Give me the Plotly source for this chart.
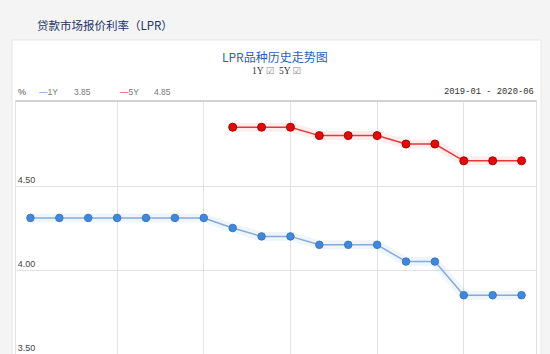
import plotly.graph_objects as go

months = ["2019-01", "2019-02", "2019-03", "2019-04", "2019-05", "2019-06",
          "2019-07", "2019-08", "2019-09", "2019-10", "2019-11", "2019-12",
          "2020-01", "2020-02", "2020-03", "2020-04", "2020-05", "2020-06"]
lpr_1y = [4.31, 4.31, 4.31, 4.31, 4.31, 4.31, 4.31, 4.25, 4.20, 4.20,
          4.15, 4.15, 4.15, 4.05, 4.05, 3.85, 3.85, 3.85]
lpr_5y = [None, None, None, None, None, None, None, 4.85, 4.85, 4.85,
          4.80, 4.80, 4.80, 4.75, 4.75, 4.65, 4.65, 4.65]
legend_names = ["1Y", "5Y"]
legend_values = [3.85, 4.85]
y_ticks = [3.5, 4.0, 4.5]

W, H = 550, 354
L, R, T, B = 16, 14, 101, 0
pw, ph = W - L - R, H - T - B

def px(x):
    return (x - L) / pw

def py(y):
    return (H - B - y) / ph

BLUE_LINE = "#86a9d6"
BLUE_MK = "#3f88dc"
RED_LINE = "#e23a3a"
RED_MK = "#e00b0b"

fig = go.Figure()
# soft halos
fig.add_trace(go.Scatter(x=months, y=lpr_1y, mode="lines",
                         line=dict(color="rgba(120,170,230,0.12)", width=9),
                         hoverinfo="skip", showlegend=False))
fig.add_trace(go.Scatter(x=months, y=lpr_5y, mode="lines",
                         line=dict(color="rgba(240,80,80,0.10)", width=9),
                         hoverinfo="skip", showlegend=False))
fig.add_trace(go.Scatter(x=months, y=lpr_1y, mode="lines+markers", name="1Y",
                         line=dict(color=BLUE_LINE, width=1.5),
                         marker=dict(color=BLUE_MK, size=7.5,
                                     line=dict(color="#3a78c4", width=1)),
                         showlegend=False))
fig.add_trace(go.Scatter(x=months, y=lpr_5y, mode="lines+markers", name="5Y",
                         line=dict(color=RED_LINE, width=1.5),
                         marker=dict(color=RED_MK, size=8,
                                     line=dict(color="#b00000", width=1)),
                         showlegend=False))

shapes = [
    # white card
    dict(type="rect", xref="paper", yref="paper",
         x0=px(12), x1=px(541), y0=py(360), y1=py(40),
         fillcolor="white", line=dict(color="#e6e6e6", width=1), layer="below"),
    # top border of plot area
    dict(type="line", xref="paper", yref="paper",
         x0=0, x1=1, y0=1, y1=1, line=dict(color="#d2d2d2", width=2)),
]

lg_font = dict(family="Liberation Sans", size=8.5, color="#777777")
annotations = [
    dict(text="贷款市场报价利率（LPR）", x=px(35), y=py(25), xanchor="left", yanchor="middle",
         font=dict(family="Noto Sans CJK SC", size=11.5, color="#1c3264")),
    dict(text="LPR品种历史走势图", x=px(275), y=py(57), xanchor="center", yanchor="middle",
         font=dict(family="Noto Sans CJK SC", size=12, color="#1e64b8")),
    dict(text="1Y <span style='font-family:DejaVu Sans;color:#888'>☑</span> &nbsp;5Y <span style='font-family:DejaVu Sans;color:#888'>☑</span>",
         x=px(276), y=py(70), xanchor="center", yanchor="middle",
         font=dict(family="Liberation Serif", size=9.5, color="#333333")),
    dict(text="%", x=px(16), y=py(92), xanchor="left", yanchor="middle",
         font=dict(family="Liberation Sans", size=9, color="#555555")),
    dict(text=f"<span style='color:{BLUE_MK}'>—</span>{legend_names[0]}", x=px(37), y=py(92),
         xanchor="left", yanchor="middle", font=lg_font),
    dict(text=f"{legend_values[0]:.2f}", x=px(72), y=py(92),
         xanchor="left", yanchor="middle", font=lg_font),
    dict(text=f"<span style='color:{RED_MK}'>—</span>{legend_names[1]}", x=px(118), y=py(92),
         xanchor="left", yanchor="middle", font=lg_font),
    dict(text=f"{legend_values[1]:.2f}", x=px(152), y=py(92),
         xanchor="left", yanchor="middle", font=lg_font),
    dict(text=f"{months[0]} - {months[-1]}", x=px(536), y=py(92), xanchor="right", yanchor="middle",
         font=dict(family="Liberation Mono", size=8.8, color="#333333")),
]
for a in annotations:
    a.update(xref="paper", yref="paper", showarrow=False)

fig.update_layout(
    width=W, height=H,
    margin=dict(l=L, r=R, t=T, b=B, pad=0),
    paper_bgcolor="#f4f4f4",
    plot_bgcolor="white",
    shapes=shapes,
    annotations=annotations,
    xaxis=dict(type="category", categoryorder="array", categoryarray=months,
               range=[-0.5, len(months) - 0.5],
               tickvals=months[3::3], showticklabels=False, ticks="",
               showgrid=True, gridcolor="#e2e2e2", gridwidth=1,
               showline=True, mirror=True, linecolor="#e0e0e0", zeroline=False),
    yaxis=dict(range=[3.5, 5.006], tickvals=y_ticks,
               ticktext=[f"{v:.2f}" for v in y_ticks],
               ticklabelposition="inside top", ticks="",
               tickfont=dict(family="Liberation Sans", size=9, color="#444444"),
               showgrid=True, gridcolor="#e2e2e2", gridwidth=1,
               showline=True, mirror=True, linecolor="#e0e0e0", zeroline=False),
    hovermode=False,
)

fig.write_html("out.html", config={"displayModeBar": False})
